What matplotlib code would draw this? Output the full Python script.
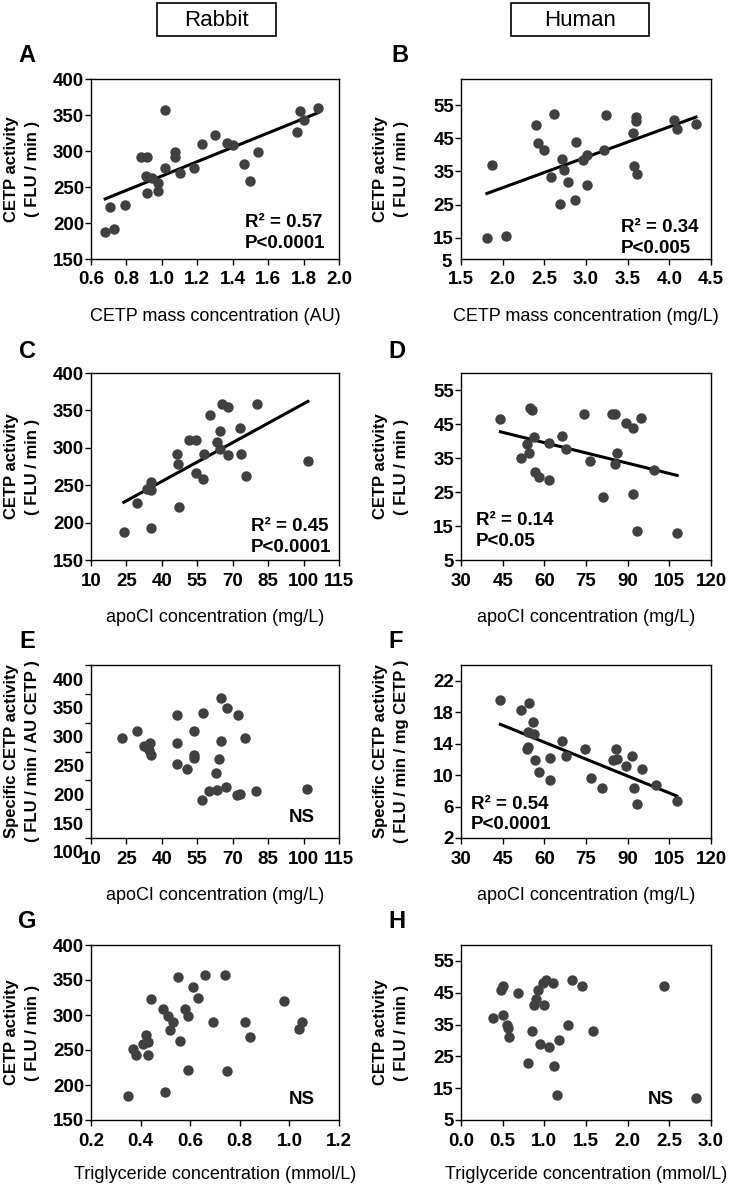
import matplotlib.pyplot as plt
import numpy as np
from matplotlib.patches import Rectangle
from matplotlib import transforms

W, H = 742, 1189
DOT = "#404040"

plt.rcParams["font.family"] = ["Liberation Sans", "DejaVu Sans"]
plt.rcParams["font.weight"] = "bold"

# A: rabbit, CETP mass (AU) vs CETP activity
a_x = [0.68, 0.73, 0.71, 0.79, 0.88, 0.915, 0.91, 0.915, 0.943, 0.98, 0.98, 1.02,
       1.02, 1.075, 1.075, 1.10, 1.18, 1.225, 1.30, 1.37, 1.40, 1.465, 1.50, 1.54,
       1.765, 1.78, 1.80, 1.88]
a_y = [187, 191, 222, 225, 291, 292, 265, 241, 262, 255, 244, 357,
       277, 298, 292, 269, 277, 310, 322, 311, 308, 282, 259, 298,
       326, 356, 343, 360]

# B: human, CETP mass (mg/L) vs CETP activity
b_x = [1.81, 1.87, 2.04, 2.40, 2.42, 2.49, 2.62, 2.58, 2.69, 2.71, 2.73, 2.78,
       2.87, 2.88, 2.96, 3.01, 3.01, 3.21, 3.24, 3.56, 3.60, 3.60, 3.58, 3.61,
       4.05, 4.09, 4.32]
b_y = [15.0, 37.0, 15.4, 49.2, 43.6, 41.4, 52.4, 33.3, 25.1, 38.7, 35.4, 31.8,
       26.5, 43.9, 38.6, 39.9, 30.8, 41.4, 52.0, 46.7, 51.5, 50.3, 36.7, 34.1,
       50.7, 48.0, 49.3]

# C: rabbit, apoCI vs CETP activity
c_x = [80.1, 65.4, 67.8, 60.4, 64.7, 63.5, 64.7, 68.2, 51.5, 54.3, 46.5, 46.8,
       54.3, 57.6, 57.9, 73.0, 73.4, 75.6, 101.8, 35.5, 33.8, 35.5, 29.5, 47.3,
       23.9, 35.2]
c_y = [359, 359, 354, 344, 323, 308, 299, 290, 310, 310, 292, 278,
       266, 258, 292, 326, 292, 262, 282, 254, 245, 243, 226, 221,
       187, 193]

# D: human, apoCI vs CETP activity
d_x = [44.2, 55.0, 55.4, 56.2, 53.8, 54.6, 51.6, 56.8, 58.2, 61.6, 61.6, 66.4,
       67.8, 74.2, 76.6, 84.2, 85.4, 86.0, 85.6, 89.4, 91.8, 94.7, 99.6, 81.0,
       91.8, 93.2, 107.8]
d_y = [46.6, 49.8, 49.0, 41.2, 39.1, 36.5, 35.0, 30.8, 29.4, 28.6, 39.3, 41.5,
       37.6, 48.0, 34.2, 47.8, 47.8, 36.5, 33.3, 45.2, 43.9, 46.7, 31.6, 23.4,
       24.3, 13.6, 12.9]

# E: rabbit, apoCI vs specific CETP activity
e_x = [23.2, 29.3, 32.4, 34.8, 34.5, 35.2, 46.3, 46.3, 46.3, 53.6, 53.6, 53.6,
       50.8, 57.6, 57.2, 60.0, 63.5, 67.1, 62.8, 64.2, 64.9, 67.4, 72.3, 72.0,
       73.2, 75.3, 79.8, 101.4, 65.0]
e_y = [274, 286, 259, 264, 253, 244, 264, 313, 229, 286, 244, 239,
       219, 316, 166, 182, 184, 188, 213, 237, 269, 326, 313, 175,
       176, 274, 182, 185, 342]

# F: human, apoCI vs specific CETP activity
f_x = [44.2, 54.4, 51.7, 55.9, 54.1, 56.2, 54.2, 53.8, 56.8, 58.0, 61.9, 61.9,
       66.2, 67.9, 74.6, 76.7, 80.9, 85.7, 84.8, 86.3, 89.3, 91.7, 92.1, 93.2,
       95.1, 100.1, 107.7]
f_y = [19.5, 19.2, 18.3, 16.8, 15.5, 15.2, 13.6, 13.3, 11.9, 10.4, 9.4, 12.2,
       14.3, 12.4, 13.3, 9.6, 8.3, 13.3, 11.9, 12.1, 11.1, 12.4, 8.3, 6.3,
       10.8, 8.7, 6.7]

# G: rabbit, triglycerides vs CETP activity
g_x = [0.35, 0.37, 0.38, 0.41, 0.42, 0.43, 0.44, 0.43, 0.49, 0.50, 0.51, 0.52,
       0.53, 0.55, 0.56, 0.58, 0.59, 0.59, 0.61, 0.63, 0.66, 0.69, 0.74, 0.75,
       0.82, 0.84, 0.98, 1.05, 1.04]
g_y = [185, 252, 243, 258, 272, 262, 323, 243, 308, 190, 298, 278,
       290, 355, 263, 308, 298, 222, 340, 325, 357, 290, 357, 220,
       290, 268, 320, 290, 280]

# H: human, triglycerides vs CETP activity
h_x = [0.38, 0.48, 0.50, 0.50, 0.55, 0.58, 0.56, 0.68, 0.80, 0.85, 0.88, 0.90,
       0.92, 0.95, 0.98, 1.00, 1.02, 1.05, 1.10, 1.12, 1.15, 1.18, 1.28, 1.33,
       1.45, 1.58, 2.43, 2.82]
h_y = [37, 46, 47, 38, 35, 31, 34, 45, 23, 33, 41, 43,
       46, 29, 48, 41, 49, 28, 48, 22, 13, 30, 35, 49,
       47, 33, 47, 12]


def fpos(x, y):
    return x / W, 1 - y / H


fig = plt.figure(figsize=(W / 100, H / 100), dpi=100)

cols = [(91, 339), (461, 711)]
rows = [(79, 259), (373, 560), (665, 838), (945, 1120)]
TICK = 13.5
LAB = 13


def make_ax(r, c):
    (l, rr), (t, b) = cols[c], rows[r]
    ax = fig.add_axes([l / W, 1 - b / H, (rr - l) / W, (b - t) / H])
    for s in ax.spines.values():
        s.set_linewidth(1.0)
    ax.tick_params(direction="out", length=4, width=1, labelsize=TICK)
    ax.tick_params(axis="x", pad=5)
    ax.tick_params(axis="y", pad=1)
    return ax


def scatter_panel(ax, x, y, fit=False):
    ax.plot(x, y, "o", color=DOT, ms=7.5, mec="none", zorder=3)
    if fit:
        k, m = np.polyfit(x, y, 1)
        xs = np.array([min(x), max(x)])
        ax.plot(xs, k * xs + m, color="black", lw=2.2, zorder=2)


def ylabel(c, r, lines):
    (l, rr), (t, b) = cols[c], rows[r]
    xc = 22 if c == 0 else 391
    fig.text(*fpos(xc, (t + b) / 2), lines, rotation=90, ha="center",
             va="center", fontsize=12, linespacing=1.45)


def stat(ax, x, y, s):
    ax.text(x, y, s, transform=ax.transAxes, ha="left", va="center",
            fontsize=TICK, linespacing=1.25)


def ns(ax, x, y):
    ax.text(x, y, "NS", transform=ax.transAxes, ha="center", va="center",
            fontsize=TICK)


# headers
for (x0, x1, label) in [(157, 276, "Rabbit"), (511, 649, "Human")]:
    fig.add_artist(Rectangle(fpos(x0, 36), (x1 - x0) / W, 33 / H,
                             transform=fig.transFigure, fill=False, lw=1.2,
                             ec="black"))
    fig.text(*fpos((x0 + x1) / 2, 20), label, ha="center", va="center",
             fontsize=16, fontweight="normal")

letters = [("A", 27, 55), ("B", 400, 55), ("C", 27, 352), ("D", 397, 352),
           ("E", 27, 642), ("F", 396, 642), ("G", 27, 922), ("H", 397, 922)]
for t, x, y in letters:
    fig.text(*fpos(x, y), t, ha="center", va="center", fontsize=17)

act = "CETP activity\n( FLU / min )"

# A
ax = make_ax(0, 0)
scatter_panel(ax, a_x, a_y, fit=True)
ax.set_xlim(0.6, 2.0)
ax.set_ylim(150, 400)
ax.set_xticks(np.arange(0.6, 2.01, 0.2), [f"{v:.1f}" for v in np.arange(0.6, 2.01, 0.2)])
ax.set_yticks(range(150, 401, 50))
ax.set_xlabel("CETP mass concentration (AU)", fontsize=LAB, labelpad=14)
stat(ax, 0.62, 0.144, "R² = 0.57\nP<0.0001")
ylabel(0, 0, act)

# B
ax = make_ax(0, 1)
scatter_panel(ax, b_x, b_y, fit=True)
ax.set_xlim(1.5, 4.5)
ax.set_ylim(8.5, 63)
ax.set_xticks(np.arange(1.5, 4.51, 0.5), [f"{v:.1f}" for v in np.arange(1.5, 4.51, 0.5)])
ax.set_yticks(range(15, 56, 10))
ax.text(-0.035, -0.02, "5", transform=ax.transAxes, ha="right", va="center",
        fontsize=TICK)
ax.set_xlabel("CETP mass concentration (mg/L)", fontsize=LAB, labelpad=14)
stat(ax, 0.64, 0.117, "R² = 0.34\nP<0.005")
ylabel(1, 0, act)

apo_rab = range(10, 116, 15)
apo_hum = range(30, 121, 15)

# C
ax = make_ax(1, 0)
scatter_panel(ax, c_x, c_y, fit=True)
ax.set_xlim(10, 115)
ax.set_ylim(150, 400)
ax.set_xticks(apo_rab)
ax.set_yticks(range(150, 401, 50))
ax.set_xlabel("apoCI concentration (mg/L)", fontsize=LAB, labelpad=14)
stat(ax, 0.645, 0.123, "R² = 0.45\nP<0.0001")
ylabel(0, 1, act)

# D
ax = make_ax(1, 1)
scatter_panel(ax, d_x, d_y, fit=True)
ax.set_xlim(30, 120)
ax.set_ylim(5, 60)
ax.set_xticks(apo_hum)
ax.set_yticks(range(5, 56, 10))
ax.set_xlabel("apoCI concentration (mg/L)", fontsize=LAB, labelpad=14)
stat(ax, 0.06, 0.155, "R² = 0.14\nP<0.05")
ylabel(1, 1, act)

# E
ax = make_ax(2, 0)
scatter_panel(ax, e_x, e_y)
ax.set_xlim(10, 115)
ax.set_ylim(100, 400)
ax.set_xticks(apo_rab)
ax.set_yticks(range(100, 401, 50))
shift = transforms.ScaledTranslation(0, -0.14, fig.dpi_scale_trans)
for lab in ax.get_yticklabels():
    lab.set_transform(lab.get_transform() + shift)
ax.set_xlabel("apoCI concentration (mg/L)", fontsize=LAB, labelpad=14)
ns(ax, 0.85, 0.116)
ylabel(0, 2, "Specific CETP activity\n( FLU / min / AU CETP )")

# F
ax = make_ax(2, 1)
scatter_panel(ax, f_x, f_y, fit=True)
ax.set_xlim(30, 120)
ax.set_ylim(2, 24)
ax.set_xticks(apo_hum)
ax.set_yticks(range(2, 23, 4))
ax.set_xlabel("apoCI concentration (mg/L)", fontsize=LAB, labelpad=14)
stat(ax, 0.04, 0.136, "R² = 0.54\nP<0.0001")
ylabel(1, 2, "Specific CETP activity\n( FLU / min / mg CETP )")

# G
ax = make_ax(3, 0)
scatter_panel(ax, g_x, g_y)
ax.set_xlim(0.2, 1.2)
ax.set_ylim(150, 400)
ax.set_xticks(np.arange(0.2, 1.21, 0.2), [f"{v:.1f}" for v in np.arange(0.2, 1.21, 0.2)])
ax.set_yticks(range(150, 401, 50))
ax.set_xlabel("Triglyceride concentration (mmol/L)", fontsize=LAB, labelpad=12)
ns(ax, 0.85, 0.12)
ylabel(0, 3, act)

# H
ax = make_ax(3, 1)
scatter_panel(ax, h_x, h_y)
ax.set_xlim(0, 3)
ax.set_ylim(5, 60)
ax.set_xticks(np.arange(0, 3.01, 0.5), [f"{v:.1f}" for v in np.arange(0, 3.01, 0.5)])
ax.set_yticks(range(5, 56, 10))
ax.set_xlabel("Triglyceride concentration (mmol/L)", fontsize=LAB, labelpad=12)
ns(ax, 0.8, 0.12)
ylabel(1, 3, act)

fig.savefig("out.png", dpi=100)
